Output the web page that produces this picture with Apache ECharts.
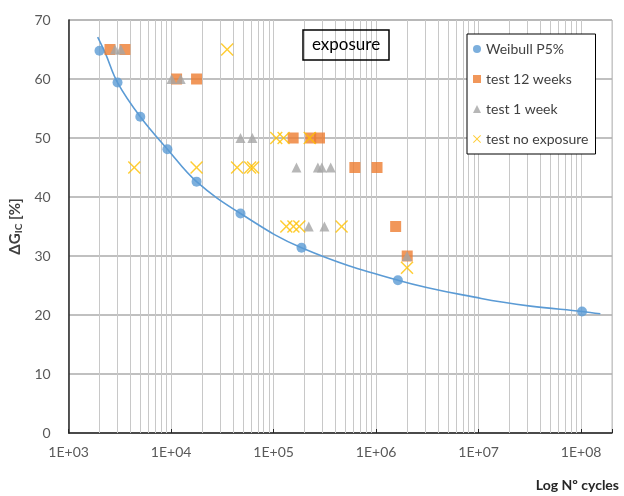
<!DOCTYPE html>
<html>
<head>
<meta charset="utf-8">
<script src="https://cdn.jsdelivr.net/npm/echarts@6/dist/echarts.min.js"></script>
<style>html,body{margin:0;padding:0;background:#fff;}#c{width:624px;height:496px;}</style>
</head>
<body>
<div id="c"></div>
<script>
// ---- data (cycles, ΔGIC %) ----
const weibullPoints = [[2000,64.8],[3000,59.4],[5000,53.6],[9200,48.1],[17700,42.6],[47500,37.2],[187000,31.4],[1630000,25.9],[102000000,20.6]];
const weibullCurve = [[1920,67.1],[2290,64.3],[3000,59.4],[5000,53.6],[9200,48.1],[17700,42.6],[47500,37.2],[187000,31.4],[1630000,25.9],[10600000,22.8],[32000000,21.5],[102000000,20.6],[154000000,20.2]];
const test12weeks = [[2530,65],[3540,65],[11300,60],[17700,60],[155000,50],[230000,50],[280000,50],[620000,45],[1020000,45],[1550000,35],[2010000,30]];
const test1week = [[2830,65],[3230,65],[10100,60],[12400,60],[47500,50],[62000,50],[167000,45],[270000,45],[295000,45],[360000,45],[220000,35],[313000,35],[2000000,30]];
const testNoExposure = [[35200,65],[106000,50],[125000,50],[225000,50],[4370,45],[17700,45],[44000,45],[59000,45],[63000,45],[133000,35],[156000,35],[178000,35],[460000,35],[2000000,28]];
const seriesNames = ['Weibull P5%','test 12 weeks','test 1 week','test no exposure'];
const xMin = 1000, xMax = 200000000;
const yMin = 0, yMax = 70, yStep = 10;

// minor log gridlines (2..9 × decade) – axis decoration only
const minorGrid = [];
for (let e = 3; e <= 7; e++) for (let m = 2; m <= 9; m++) minorGrid.push(m * Math.pow(10, e));

const FONT = 'Lato';
const xShape = 'path://M0,0.8 L0.8,0 L5,4.2 L9.2,0 L10,0.8 L5.8,5 L10,9.2 L9.2,10 L5,5.8 L0.8,10 L0,9.2 L4.2,5 Z';
const colors = {blue:'#5B9BD5', orange:'#ED7D31', gray:'#A5A5A5', gold:'#FFC000'};

const chart = echarts.init(document.getElementById('c'), null, {renderer:'canvas'});
chart.setOption({
  animation:false,
  backgroundColor:'#fff',
  textStyle:{fontFamily:FONT},
  title:{
    text:'exposure', left:303, top:30, padding:[5,9],
    borderColor:'#000', borderWidth:1.5,
    textStyle:{fontFamily:FONT, fontSize:17, fontWeight:'normal', color:'#000', lineHeight:20}
  },
  legend:{
    orient:'vertical', left:467, top:34, padding:[7,7,7,6],
    borderColor:'#000', borderWidth:1, backgroundColor:'#fff',
    itemWidth:8, itemHeight:8, itemGap:14,
    textStyle:{fontFamily:FONT, fontSize:14, color:'#404040', lineHeight:16},
    data:[
      {name:seriesNames[0], icon:'circle'},
      {name:seriesNames[1], icon:'rect'},
      {name:seriesNames[2], icon:'triangle'},
      {name:seriesNames[3], icon:xShape}
    ]
  },
  grid:{left:67, right:12, top:20, bottom:63, show:true, borderColor:'#BFBFBF', borderWidth:1, containLabel:false},
  xAxis:{
    type:'log', logBase:10, min:xMin, max:xMax,
    axisLine:{show:true, lineStyle:{color:'#262626', width:1.5}},
    axisTick:{show:true, inside:true, length:4, lineStyle:{color:'#262626'}},
    axisLabel:{
      margin:12, fontFamily:FONT, fontSize:14, color:'#595959',
      formatter:function(v){
        const e = Math.log10(v);
        if (Math.abs(e - Math.round(e)) > 1e-6) return '';
        return '1E+' + String(Math.round(e)).padStart(2,'0');
      }
    },
    splitLine:{show:true, lineStyle:{color:'#C8C8C8', width:1}}
  },
  yAxis:{
    type:'value', min:yMin, max:yMax, interval:yStep,
    name:'{a|ΔG}{s|IC}{a| [%]}', nameLocation:'middle', nameGap:36,
    nameTextStyle:{rich:{
      a:{fontFamily:FONT, fontSize:15, fontWeight:'bold', color:'#404040'},
      s:{fontFamily:FONT, fontSize:10, fontWeight:'bold', color:'#404040', verticalAlign:'bottom', padding:[6,0,0,0]}
    }},
    axisLine:{show:true, lineStyle:{color:'#262626', width:1.5}},
    axisTick:{show:false},
    axisLabel:{margin:18, fontFamily:FONT, fontSize:14, color:'#595959'},
    splitLine:{show:true, lineStyle:{color:'#ABABAB', width:1.5}}
  },
  graphic:[{
    type:'text', right:5, top:478,
    style:{text:'Log Nº cycles', font:'bold 14px ' + FONT, fill:'#262626'}
  }],
  series:[
    {
      name:'curve', type:'line', data:weibullCurve, smooth:0.4, showSymbol:false, symbol:'none',
      lineStyle:{color:colors.blue, width:1.6}, silent:true, z:2,
      markLine:{
        silent:true, symbol:['none','none'], z:1, label:{show:false},
        lineStyle:{color:'#C8C8C8', width:1, type:'solid'},
        data:minorGrid.map(v => ({xAxis:v}))
      }
    },
    {name:seriesNames[0], type:'scatter', data:weibullPoints, symbol:'circle', symbolSize:10,
      itemStyle:{color:colors.blue}, z:3},
    {name:seriesNames[1], type:'scatter', data:test12weeks, symbol:'rect', symbolSize:11,
      itemStyle:{color:colors.orange}, z:4},
    {name:seriesNames[2], type:'scatter', data:test1week, symbol:'triangle', symbolSize:10,
      itemStyle:{color:colors.gray}, z:5},
    {name:seriesNames[3], type:'scatter', data:testNoExposure, symbol:xShape, symbolSize:13,
      itemStyle:{color:colors.gold}, z:6}
  ]
});
</script>
</body>
</html>
